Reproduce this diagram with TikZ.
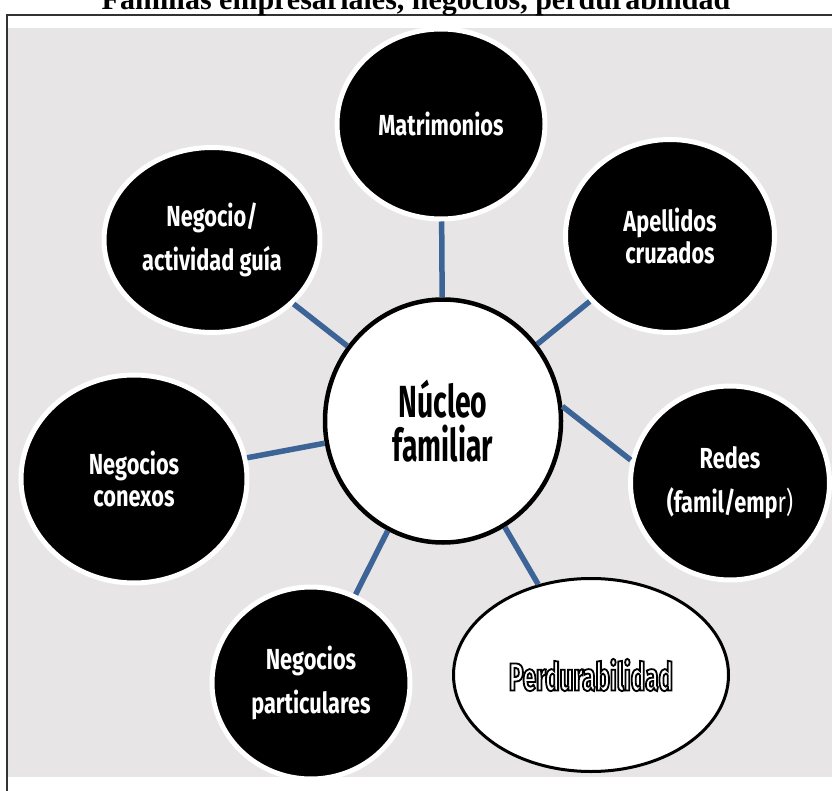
\documentclass[tikz,border=0pt]{standalone}
\usepackage{fontspec}
\setmainfont{Liberation Serif}
\newfontfamily\bubblefont[FakeStretch=0.75]{Fira Sans}
\newfontfamily\corefont[FakeStretch=0.63]{Fira Sans}
\newfontfamily\perdfont[FakeStretch=0.62]{Fira Sans}
\usetikzlibrary{shapes.geometric}
\definecolor{bggrey}{RGB}{231,229,230}
\definecolor{linkblue}{RGB}{60,100,150}
\definecolor{framegrey}{RGB}{50,50,50}
\newcommand{\outlined}[1]{\special{pdf:literal direct 2 Tr 1.8 w 0 0 0 RG}#1\special{pdf:literal direct 0 Tr}}
\tikzset{
    bubble/.style={ellipse, fill=black, draw=white, line width=5, text=white, align=center, inner sep=0pt, font=\bubblefont\bfseries\fontsize{29}{32}\selectfont},
    core/.style={ellipse, fill=white, draw=black, line width=4.5, align=center, inner sep=0pt, font=\corefont\bfseries\fontsize{45}{44}\selectfont},
    goal/.style={ellipse, fill=white, draw=black, line width=3, inner sep=0pt, text=white, font=\perdfont\bfseries\fontsize{39}{39}\selectfont},
    link/.style={linkblue, line width=5.5}
}

\begin{document}
\begin{tikzpicture}[x=1pt, y=-1pt]
\useasboundingbox (0,0) rectangle (832,791);

% Frame and background
\draw [framegrey, line width=2] (7,800) |- (845,15);
\fill [bggrey] (8,28) rectangle (832,777);
\node (title) [anchor=base, font=\bfseries\fontsize{30}{30}\selectfont] at (416,10) {Familias empresariales, negocios, perdurabilidad};

% Nodes
\node (nucleo) [core, minimum width=236, minimum height=243] at (443,421) {N\'ucleo\\familiar};

\node (matri) [bubble, minimum width=208, minimum height=190] at (441,124) {Matrimonios};
\node (apell) [bubble, minimum width=209, minimum height=193] at (670,236) {Apellidos\\cruzados};
\node (redes) [bubble, minimum width=199, minimum height=194] at (730,483) {Redes\\[12pt](famil/emp{\mdseries r)}};
\node (perd) [goal, minimum width=275, minimum height=193] at (591,675) {\outlined{Perdurabilidad}};
\node (negpart) [bubble, minimum width=198, minimum height=192] at (311,683) {Negocios\\[12pt]particulares};
\node (negcon) [bubble, minimum width=226, minimum height=208] at (134,479) {Negocios\\conexos};
\node (neggui) [bubble, minimum width=216, minimum height=185] at (212,240) {Negocio/\\[12pt]actividad gu\'ia};

% Connectors
\draw [link] (nucleo) -- (matri);
\draw [link] (nucleo) -- (apell);
\draw [link] (nucleo.7) -- (redes.167);
\draw [link] (nucleo) -- (perd);
\draw [link] (nucleo) -- (negpart);
\draw [link] (nucleo) -- (negcon);
\draw [link] (nucleo) -- (neggui);

\end{tikzpicture}
\end{document}
